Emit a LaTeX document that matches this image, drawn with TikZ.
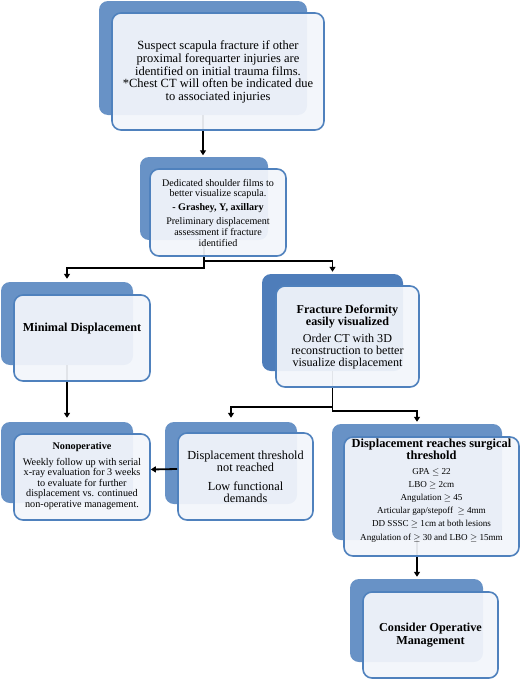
\documentclass[tikz,border=0pt]{standalone}
\usepackage{fontspec}
\setmainfont{Liberation Serif}
\usetikzlibrary{arrows.meta,calc}
\pgfdeclarelayer{backl}
\pgfdeclarelayer{connl}
\pgfsetlayers{backl,connl,main}
\definecolor{backblue}{HTML}{6892C6}
\definecolor{backdark}{HTML}{4E7DBA}
\definecolor{edgeblue}{HTML}{4F81BD}
\definecolor{frontfill}{HTML}{F3F6FB}
\begin{document}
\begin{tikzpicture}[x=1pt,y=-1pt,
  backbox/.style={rectangle,rounded corners=9pt,fill=backblue,inner sep=0pt},
  frontbox/.style={rectangle,rounded corners=9pt,fill=frontfill,fill opacity=0.93,draw=edgeblue,line width=1.6pt,inner sep=0pt},
  txt/.style={align=center,inner sep=0pt,text=black},
  conn/.style={draw=black,line width=1.8pt,-{Triangle[width=6pt,length=5pt]}}]
\useasboundingbox (0,0) rectangle (520,680);

\begin{pgfonlayer}{backl}
\fill[white] (0,0) rectangle (520,680);
\node[backbox,minimum width=208pt,minimum height=114pt] (b1) at (203,58) {};
\node[backbox,minimum width=128pt,minimum height=83pt] (b2) at (204,198.5) {};
\node[backbox,minimum width=132pt,minimum height=83pt] (b3) at (67,323.5) {};
\node[backbox,fill=backdark,minimum width=141pt,minimum height=97pt] (b4) at (332.5,322.5) {};
\node[backbox,minimum width=132pt,minimum height=81pt] (b5) at (67,462.5) {};
\node[backbox,minimum width=132pt,minimum height=82pt] (b6) at (231,463) {};
\node[backbox,minimum width=170pt,minimum height=116pt] (b7) at (417,482) {};
\node[backbox,minimum width=133pt,minimum height=83pt] (b8) at (416.5,620.5) {};
\end{pgfonlayer}

\begin{pgfonlayer}{connl}
\draw[conn,shorten >=1.5pt] (b1.south) -- (b1.south |- b2.north);
\draw[conn,shorten >=3pt] (b2.south) -- ++(0,28) -| (b3.north);
\draw[conn,shorten >=2pt] (b2.south) -- ++(0,21) -| (b4.north);
\draw[conn,shorten >=4pt] (b3.south) -- (b3.south |- b5.north);
\draw[conn,shorten >=4pt] (b4.south) -- ++(0,36) -| (b6.north);
\draw[conn,shorten >=2pt] (b4.south) -- ++(0,40) -| (b7.north);
\draw[conn,shorten >=2pt] (b7.south) -- (b7.south |- b8.north);
\end{pgfonlayer}

\node[frontbox,minimum width=212pt,minimum height=117pt] (f1) at (218,71.5) {};
\node[frontbox,minimum width=136pt,minimum height=87pt] (f2) at (218,212.5) {};
\node[frontbox,minimum width=136pt,minimum height=86pt] (f3) at (82,338) {};
\node[frontbox,minimum width=143pt,minimum height=101pt] (f4) at (347.5,336.5) {};
\node[frontbox,minimum width=136pt,minimum height=86pt] (f5) at (82,477) {};
\node[frontbox,minimum width=135pt,minimum height=87pt] (f6) at (245.5,476.5) {};
\node[frontbox,minimum width=175pt,minimum height=119pt] (f7) at (431.5,496.5) {};
\node[frontbox,minimum width=135pt,minimum height=86pt] (f8) at (430.5,635) {};

\node[txt,font=\fontsize{12.5}{12.8}\selectfont] (t1) at (218,72)
  {Suspect scapula fracture if other\\proximal forequarter injuries are\\identified on initial trauma films.\\*Chest CT will often be indicated due\\to associated injuries};
\node[txt,font=\fontsize{10.1}{10.8}\selectfont] (t2) at (218,212.5)
  {Dedicated shoulder films to\\better visualize scapula.\\[3pt]\textbf{- Grashey, Y, axillary}\\[3pt]Preliminary displacement\\assessment if fracture\\identified};
\node[txt,font=\fontsize{12.2}{12.5}\selectfont\bfseries] (t3) at (82,329) {Minimal Displacement};
\node[txt,font=\fontsize{12.1}{12.2}\selectfont] (t4) at (347.5,337)
  {\textbf{Fracture Deformity}\\\textbf{easily visualized}\\[5pt]Order CT with 3D\\reconstruction to better\\visualize displacement};
\node[txt,font=\fontsize{10.2}{10.6}\selectfont] (t5) at (82,476)
  {\textbf{Nonoperative}\\[5pt]Weekly follow up with serial\\x-ray evaluation for 3 weeks\\to evaluate for further\\displacement vs. continued\\non-operative management.};
\node[txt,font=\fontsize{12.3}{12.5}\selectfont] (t6) at (245.5,477)
  {Displacement threshold\\not reached\\[6pt]Low functional\\demands};
\node[txt,font=\fontsize{12.4}{12.2}\selectfont\bfseries] (t7a) at (431.5,449) {Displacement reaches surgical\\threshold};
\node[txt,font=\fontsize{9.1}{13.2}\selectfont] (t7b) at (431.5,505)
  {GPA $\le$ 22\\LBO $\ge$ 2cm\\Angulation $\ge$ 45\\Articular gap/stepoff \ $\ge$ 4mm\\DD SSSC $\ge$ 1cm at both lesions\\Angulation of $\ge$ 30 and LBO $\ge$ 15mm};
\node[txt,font=\fontsize{12.2}{13.5}\selectfont\bfseries] (t8) at (430.5,635) {Consider Operative\\Management};

\draw[conn] ([yshift=7.5pt]f6.west) -- ([yshift=7.5pt]f5.east);
\end{tikzpicture}
\end{document}
